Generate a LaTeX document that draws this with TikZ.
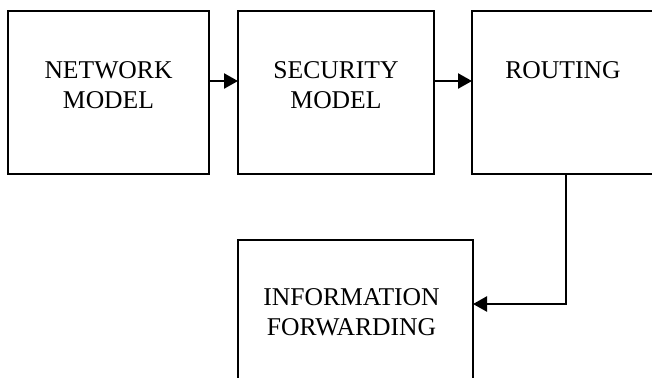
\documentclass[tikz,border=0pt]{standalone}
\usepackage{fontspec}
\setmainfont{Liberation Serif}
\usetikzlibrary{arrows.meta,positioning}

\begin{document}
\begin{tikzpicture}[
  x=0.5pt, y=-0.5pt,
  node distance=14.5pt,
  box/.style={draw, line width=1pt, minimum width=100.5pt, minimum height=81.5pt, inner sep=0pt, outer sep=0pt},
  txt/.style={anchor=north, align=center, inner sep=0pt, yshift=-25pt, font=\fontsize{12.8}{15}\selectfont},
  arr/.style={-{Triangle[length=7pt, width=7.5pt]}, line width=1.2pt},
]
  \clip (0,0) rectangle (652,377);
  \node[box, anchor=north west, label={[txt]north:NETWORK\\MODEL}] (net) at (8,11) {};
  \node[box, minimum width=98pt, right=of net, label={[txt]north:SECURITY\\MODEL}] (sec) {};
  \node[box, minimum width=94pt, right=19pt of sec, label={[txt, xshift=-1.5pt]north:ROUTING}] (route) {};
  \node[box, minimum width=117.5pt, below right=33pt and 0pt of sec.south west, label={[txt, xshift=-2pt, yshift=1pt]north:INFORMATION\\FORWARDING}] (info) {};

  \draw[arr] ([yshift=5.75pt]net.east) -- ([yshift=5.75pt]sec.west);
  \draw[arr] ([yshift=5.75pt]sec.east) -- ([yshift=5.75pt]route.west);
  \draw[arr] (route.south) |- ([yshift=-32pt]info.north east);
\end{tikzpicture}
\end{document}
